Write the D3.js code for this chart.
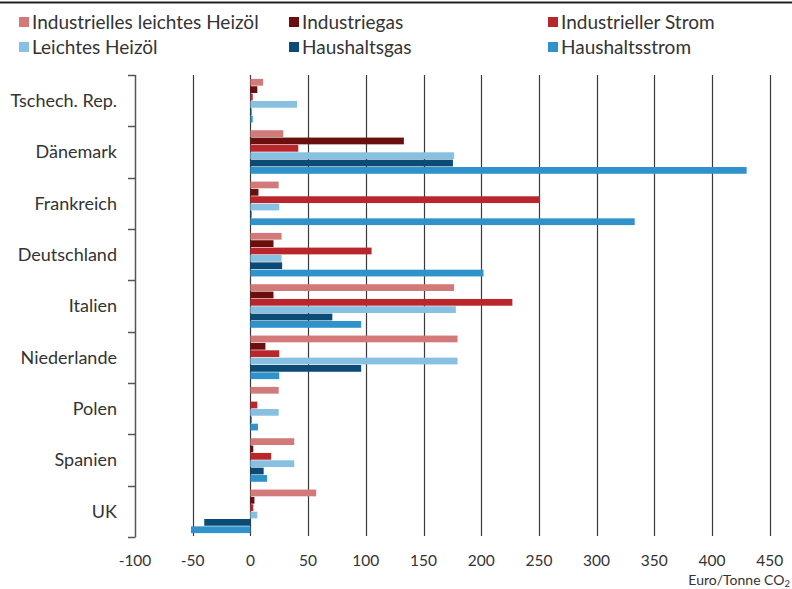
<!DOCTYPE html>
<html>
<head>
<meta charset="utf-8">
<script src="https://cdn.jsdelivr.net/npm/d3@7"></script>
<style>
  body { margin: 0; background: #fff; }
  svg { display: block; font-family: Lato, "Noto Sans", sans-serif; }
</style>
</head>
<body>
<div id="chart"></div>
<script>
// values (Euro/Tonne CO2)
var categories = ["Tschech. Rep.", "Dänemark", "Frankreich", "Deutschland", "Italien",
  "Niederlande", "Polen", "Spanien", "UK"];
var seriesNames = ["Industrielles leichtes Heizöl", "Industriegas", "Industrieller Strom",
  "Leichtes Heizöl", "Haushaltsgas", "Haushaltsstrom"];
var industriellesHeizoel = [11, 28.5, 24.5, 27, 176.5, 179.5, 24.5, 38, 57];
var industriegas = [6, 133, 7, 20, 20, 13, 0, 2.5, 3.5];
var industriellerStrom = [2, 41.5, 251, 105, 227, 25, 6, 18, 2.5];
var leichtesHeizoel = [40.5, 176.5, 25, 27, 178, 179.5, 24.5, 38, 6];
var haushaltsgas = [1, 175.5, 1, 27.5, 71, 96, 1, 11.5, -40];
var haushaltsstrom = [2, 430, 333, 202, 96, 25, 6.5, 14.5, -51.5];
var xTicks = [-100, -50, 0, 50, 100, 150, 200, 250, 300, 350, 400, 450];
var colors = ["#d27a7a", "#6b0e0e", "#b9272d", "#87c0e0", "#0b4b75", "#2f92ca"];

var series = [industriellesHeizoel, industriegas, industriellerStrom,
  leichtesHeizoel, haushaltsgas, haushaltsstrom];

var width = 792, height = 589;
var margin = {top: 75, right: 22, bottom: 52, left: 135};

var svg = d3.select("#chart").append("svg")
  .attr("width", width)
  .attr("height", height);

// rule on top
svg.append("line")
  .attr("x1", 0).attr("x2", width)
  .attr("y1", 2.5).attr("y2", 2.5)
  .attr("stroke", "#222").attr("stroke-width", 2);

// legend
var legend = svg.append("g");
var legendCols = [19, 289, 548];
seriesNames.forEach(function(name, i) {
  var gx = legendCols[i % 3], gy = 22 + Math.floor(i / 3) * 25;
  legend.append("rect")
    .attr("x", gx).attr("y", gy - 5)
    .attr("width", 10).attr("height", 10)
    .attr("fill", colors[i]);
  legend.append("text")
    .attr("x", gx + 13).attr("y", gy)
    .attr("dy", "0.35em")
    .attr("font-size", 19)
    .attr("fill", "#333")
    .text(name);
});

var x = d3.scaleLinear()
  .domain([-100, 450])
  .range([margin.left, width - margin.right - 0.3]);

var y = d3.scaleBand()
  .domain(categories)
  .range([margin.top, height - margin.bottom])
  .paddingInner(0.14)
  .paddingOuter(0.07);

var ySub = d3.scaleBand()
  .domain(d3.range(series.length))
  .range([0, y.bandwidth()])
  .padding(0);

var plotTop = margin.top, plotBottom = height - margin.bottom;

// grid lines
svg.append("g")
  .selectAll("line")
  .data(xTicks.slice(1))
  .join("line")
  .attr("x1", function(d) { return Math.round(x(d)) + 0.5; })
  .attr("x2", function(d) { return Math.round(x(d)) + 0.5; })
  .attr("y1", plotTop)
  .attr("y2", plotBottom - 1)
  .attr("stroke", "#3a3a3a")
  .attr("stroke-width", 1.2);

// bars
var groups = svg.append("g")
  .selectAll("g")
  .data(categories)
  .join("g")
  .attr("transform", function(d) { return "translate(0," + y(d) + ")"; });

groups.selectAll("rect")
  .data(function(d, ci) {
    return series.map(function(s, si) { return {si: si, v: s[ci]}; });
  })
  .join("rect")
  .attr("x", function(d) { return x(Math.min(0, d.v)); })
  .attr("y", function(d) { return ySub(d.si) + 0.3; })
  .attr("width", function(d) { return Math.abs(x(d.v) - x(0)); })
  .attr("height", ySub.bandwidth() - 0.6)
  .attr("fill", function(d) { return colors[d.si]; });

// category axis with ticks between groups
var yAxis = svg.append("g");
var bounds = categories.map(function(c) { return y(c) - y.step() * y.paddingInner() / 2; });
bounds.push(plotBottom);
yAxis.append("line")
  .attr("x1", margin.left + 0.5).attr("x2", margin.left + 0.5)
  .attr("y1", plotTop).attr("y2", plotBottom)
  .attr("stroke", "#555").attr("stroke-width", 1.5);
yAxis.selectAll("line.tick")
  .data(bounds)
  .join("line")
  .attr("class", "tick")
  .attr("x1", margin.left - 7).attr("x2", margin.left + 0.5)
  .attr("y1", function(d) { return Math.round(d) + 0.5; })
  .attr("y2", function(d) { return Math.round(d) + 0.5; })
  .attr("stroke", "#555").attr("stroke-width", 1.5);
yAxis.selectAll("text")
  .data(categories)
  .join("text")
  .attr("x", margin.left - 18)
  .attr("y", function(d) { return y(d) + y.bandwidth() / 2; })
  .attr("dy", "0.35em")
  .attr("text-anchor", "end")
  .attr("font-size", 18)
  .attr("fill", "#333")
  .text(function(d) { return d; });

// value axis labels
svg.append("g")
  .selectAll("text")
  .data(xTicks)
  .join("text")
  .attr("x", function(d) { return x(d); })
  .attr("y", 561)
  .attr("dy", "0.35em")
  .attr("text-anchor", "middle")
  .attr("font-size", 15.5)
  .attr("fill", "#333")
  .text(function(d) { return d; });

var unit = svg.append("text")
  .attr("x", 790)
  .attr("y", 585)
  .attr("text-anchor", "end")
  .attr("font-size", 14)
  .attr("fill", "#333");
unit.append("tspan").text("Euro/Tonne CO");
unit.append("tspan").attr("font-size", 9.5).attr("dy", "0.25em").text("2");
</script>
</body>
</html>
